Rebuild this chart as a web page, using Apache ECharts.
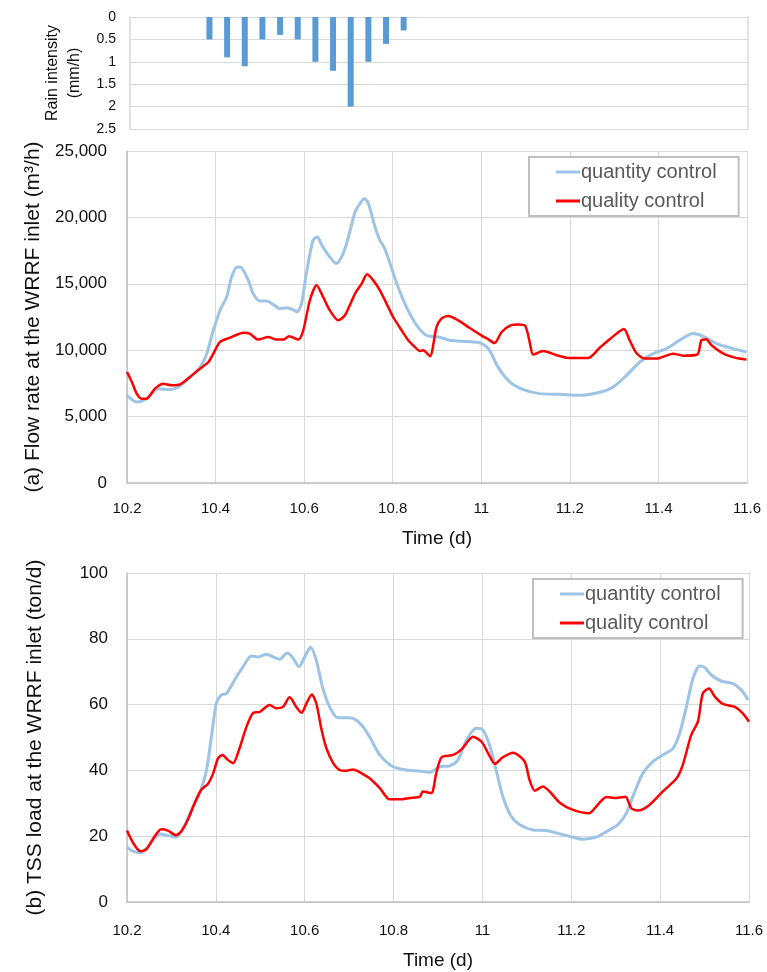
<!DOCTYPE html>
<html>
<head>
<meta charset="utf-8">
<script src="https://cdn.jsdelivr.net/npm/echarts@6/dist/echarts.min.js"></script>
<style>
html,body{margin:0;padding:0;background:#fff;}
#c{width:767px;height:972px;}
</style>
</head>
<body>
<div id="c"></div>
<script>
// ---------- data ----------
var timeTicks = [10.2, 10.4, 10.6, 10.8, 11, 11.2, 11.4, 11.6];

var rainTime = [10.38, 10.42, 10.46, 10.50, 10.54, 10.58, 10.62, 10.66, 10.70, 10.74, 10.78, 10.82];
var rainValue = [0.5, 0.9, 1.1, 0.5, 0.4, 0.5, 1.0, 1.2, 2.0, 1.0, 0.6, 0.3];

var flowQtyTime = [10.200,10.222,10.244,10.271,10.297,10.316,10.335,10.365,10.380,10.395,10.410,10.425,10.436,10.449,10.459,10.474,10.485,10.500,10.515,10.530,10.545,10.560,10.575,10.584,10.594,10.605,10.620,10.630,10.640,10.658,10.673,10.688,10.700,10.715,10.726,10.736,10.745,10.760,10.771,10.782,10.798,10.812,10.831,10.854,10.873,10.884,10.903,10.929,10.967,10.997,11.016,11.038,11.065,11.095,11.132,11.177,11.223,11.268,11.298,11.328,11.358,11.388,11.418,11.448,11.478,11.501,11.531,11.569,11.599];
var flowQtyValue = [6600,6100,6350,7100,7030,7230,7730,8730,9740,11500,13000,14000,15500,16270,16200,15260,14260,13700,13700,13450,13130,13200,13060,12880,13500,15770,18280,18530,17900,17020,16520,17270,18530,20400,21040,21420,21040,19280,18280,17650,16140,14760,13250,11880,11170,11050,11000,10750,10650,10550,10120,8730,7600,7030,6730,6680,6600,6830,7230,8110,9110,9740,10120,10750,11250,11050,10500,10120,9860];

var flowQualTime = [10.200,10.211,10.222,10.233,10.244,10.263,10.282,10.301,10.320,10.342,10.365,10.384,10.395,10.410,10.433,10.463,10.477,10.496,10.519,10.538,10.553,10.566,10.587,10.598,10.613,10.628,10.643,10.658,10.677,10.692,10.715,10.730,10.742,10.756,10.771,10.786,10.801,10.820,10.835,10.850,10.861,10.869,10.884,10.899,10.910,10.925,10.948,10.974,11.000,11.016,11.030,11.046,11.065,11.084,11.099,11.110,11.117,11.140,11.170,11.192,11.241,11.268,11.290,11.322,11.335,11.350,11.369,11.396,11.433,11.456,11.488,11.497,11.508,11.520,11.547,11.573,11.599];
var flowQualValue = [8360,7600,6730,6350,6350,7110,7480,7360,7430,7980,8610,9110,9740,10620,10950,11320,11250,10800,10990,10800,10800,11050,10800,11500,13760,14890,14000,13000,12250,12630,14260,15010,15710,15260,14510,13510,12500,11500,10750,10240,9940,9990,9540,11750,12380,12580,12250,11670,11120,10820,10540,11370,11850,11930,11850,10500,9670,9940,9620,9440,9410,10200,10820,11600,10750,9790,9370,9370,9740,9590,9690,10750,10820,10370,9740,9440,9290];

var tssQtyTime = [10.200,10.214,10.232,10.251,10.274,10.296,10.311,10.326,10.349,10.364,10.379,10.390,10.401,10.412,10.424,10.446,10.461,10.480,10.495,10.514,10.529,10.544,10.560,10.572,10.587,10.600,10.613,10.626,10.640,10.656,10.673,10.694,10.709,10.728,10.746,10.769,10.799,10.829,10.859,10.881,10.904,10.926,10.945,10.964,10.986,11.001,11.016,11.031,11.046,11.065,11.084,11.114,11.144,11.174,11.204,11.226,11.256,11.279,11.305,11.324,11.343,11.361,11.384,11.406,11.429,11.444,11.459,11.474,11.489,11.500,11.515,11.538,11.564,11.583,11.598];
var tssQtyValue = [16.7,15.4,15.0,17.4,20.7,20.1,19.7,22.4,29.0,33.1,40.1,50.2,60.4,62.9,63.4,68.4,71.5,74.8,74.5,75.3,74.5,73.8,75.7,74.5,71.5,74.5,77.4,73.5,65.4,59.3,56.1,56.0,55.8,53.8,50.2,44.7,41.1,40.1,39.8,39.4,41.1,41.4,43.2,49.2,52.8,52.3,47.7,40.1,32.0,26.0,23.5,21.9,21.7,20.7,19.7,19.1,19.7,21.4,23.5,27.0,33.6,39.1,42.7,44.7,46.7,51.3,59.3,68.0,71.7,71.3,69.0,67.1,66.4,64.4,61.4];

var tssQualTime = [10.200,10.214,10.230,10.244,10.262,10.277,10.292,10.310,10.322,10.337,10.352,10.367,10.382,10.394,10.405,10.415,10.427,10.439,10.452,10.469,10.484,10.499,10.521,10.536,10.551,10.566,10.581,10.593,10.604,10.616,10.626,10.638,10.649,10.664,10.679,10.694,10.709,10.728,10.746,10.769,10.791,10.814,10.836,10.859,10.866,10.885,10.896,10.908,10.934,10.953,10.979,10.998,11.013,11.028,11.046,11.069,11.095,11.106,11.118,11.136,11.151,11.174,11.204,11.241,11.256,11.279,11.301,11.322,11.335,11.350,11.376,11.406,11.437,11.451,11.470,11.485,11.496,11.510,11.523,11.541,11.568,11.586,11.600];
var tssQualValue = [21.7,17.9,15.4,16.1,19.9,22.1,21.7,20.3,21.4,25.0,30.0,34.1,35.9,39.1,43.7,44.7,43.2,42.2,46.2,53.3,57.5,57.8,59.9,58.9,59.3,62.2,59.3,57.5,60.4,63.1,60.4,52.3,46.7,42.2,40.1,39.9,40.3,39.1,37.6,34.6,31.2,31.2,31.6,32.0,33.6,33.1,39.1,44.0,44.7,46.4,50.2,48.7,45.2,42.0,44.0,45.4,42.7,37.1,33.8,35.1,33.6,30.2,28.0,27.0,29.0,31.9,31.6,32.0,28.5,27.8,29.5,33.6,37.6,41.7,50.8,54.8,63.4,64.9,62.4,60.2,59.3,57.3,54.8];

var seriesNames = ['quantity control', 'quality control'];
var flowTicks = [0, 5000, 10000, 15000, 20000, 25000];
var tssTicks = [0, 20, 40, 60, 80, 100];
var rainTicks = [0, 0.5, 1, 1.5, 2, 2.5];

function zip(t, v) { return t.map(function (x, i) { return [x, v[i]]; }); }

// ---------- styles ----------
var GRID = '#d9d9d9';
var AXIS = '#bfbfbf';
var SANS = '"Liberation Sans", Arial, sans-serif';
var BLUE = '#9dc3e6';
var RED = '#ff0000';

function timeAxis(gridIndex, labelMargin, nameGap) {
  return {
    gridIndex: gridIndex, type: 'value',
    min: timeTicks[0], max: timeTicks[timeTicks.length - 1], interval: 0.2,
    name: 'Time (d)', nameLocation: 'middle', nameGap: nameGap,
    nameTextStyle: { fontFamily: SANS, fontSize: 19, color: '#111' },
    axisLine: { show: true, lineStyle: { color: AXIS, width: 1.5 } },
    axisTick: { show: false },
    axisLabel: { fontFamily: SANS, fontSize: 15, color: '#111', margin: labelMargin },
    splitLine: { show: true, lineStyle: { color: GRID, width: 1 } }
  };
}

function valueAxis(gridIndex, ticks, name, nameGap, margin) {
  return {
    gridIndex: gridIndex, type: 'value',
    min: ticks[0], max: ticks[ticks.length - 1], interval: ticks[1] - ticks[0],
    name: name, nameLocation: 'middle', nameGap: nameGap, nameRotate: 90,
    nameTextStyle: { fontFamily: SANS, fontSize: 21, color: '#111' },
    axisLine: { show: true, lineStyle: { color: AXIS, width: 1.5 } },
    axisTick: { show: false },
    axisLabel: { fontFamily: SANS, fontSize: 17, color: '#111', margin: margin },
    splitLine: { show: true, lineStyle: { color: GRID, width: 1 } }
  };
}

function legend(left, top) {
  return {
    data: seriesNames, orient: 'vertical', left: left, top: top,
    backgroundColor: '#fff',
    borderColor: AXIS, borderWidth: 2, borderRadius: 0,
    padding: [5, 22, 5, 27], itemGap: 9,
    icon: 'rect', itemWidth: 24, itemHeight: 3,
    textStyle: { fontFamily: SANS, fontSize: 20, color: '#595959', padding: [0, 0, 0, -4] }
  };
}

function line(name, x, y, data, color, width) {
  return {
    name: name, type: 'line', xAxisIndex: x, yAxisIndex: y,
    data: data, showSymbol: false, symbol: 'none', smooth: 0.25,
    lineStyle: { color: color, width: width }, itemStyle: { color: color },
    emphasis: { disabled: true }, z: color === RED ? 3 : 2
  };
}

var option = {
  animation: false,
  backgroundColor: '#fff',
  grid: [
    { left: 130, top: 17, width: 618, height: 112 },
    { left: 127, top: 151, width: 620, height: 332 },
    { left: 127, top: 573, width: 622, height: 329 }
  ],
  legend: [legend(529, 157), legend(533, 579)],
  xAxis: [
    { gridIndex: 0, type: 'value', min: timeTicks[0], max: timeTicks[timeTicks.length - 1], show: false },
    timeAxis(1, 18, 46),
    timeAxis(2, 21, 49)
  ],
  yAxis: [
    {
      gridIndex: 0, type: 'value', inverse: true,
      min: rainTicks[0], max: rainTicks[rainTicks.length - 1], interval: 0.5,
      name: 'Rain intensity\n(mm/h)', nameLocation: 'middle', nameGap: 40, nameRotate: 90,
      nameTextStyle: { fontFamily: SANS, fontSize: 16, color: '#111', lineHeight: 22 },
      axisLine: { show: true, lineStyle: { color: GRID, width: 1.5 } },
      axisTick: { show: false },
      axisLabel: { fontFamily: SANS, fontSize: 14, color: '#111', margin: 14 },
      splitLine: { show: true, lineStyle: { color: GRID, width: 1.2 } }
    },
    valueAxis(1, flowTicks, '(a) Flow rate at the WRRF inlet (m\u00b3/h)', 81, 20),
    valueAxis(2, tssTicks, '(b) TSS load at the WRRF inlet (ton/d)', 81, 19),
    {
      gridIndex: 0, type: 'value', position: 'right', inverse: true,
      min: rainTicks[0], max: rainTicks[rainTicks.length - 1],
      axisLine: { show: true, lineStyle: { color: GRID, width: 1.5 } },
      axisTick: { show: false }, axisLabel: { show: false }, splitLine: { show: false }
    }
  ],
  series: [
    {
      name: 'rain', type: 'bar', xAxisIndex: 0, yAxisIndex: 0,
      data: zip(rainTime, rainValue), barWidth: 6,
      itemStyle: { color: '#5b9bd5' }, emphasis: { disabled: true }
    },
    line(seriesNames[0], 1, 1, zip(flowQtyTime, flowQtyValue), BLUE, 3),
    line(seriesNames[1], 1, 1, zip(flowQualTime, flowQualValue), RED, 2.5),
    line(seriesNames[0], 2, 2, zip(tssQtyTime, tssQtyValue), BLUE, 3),
    line(seriesNames[1], 2, 2, zip(tssQualTime, tssQualValue), RED, 2.5)
  ]
};

var chart = echarts.init(document.getElementById('c'), null, { renderer: 'canvas' });
chart.setOption(option);
</script>
</body>
</html>
